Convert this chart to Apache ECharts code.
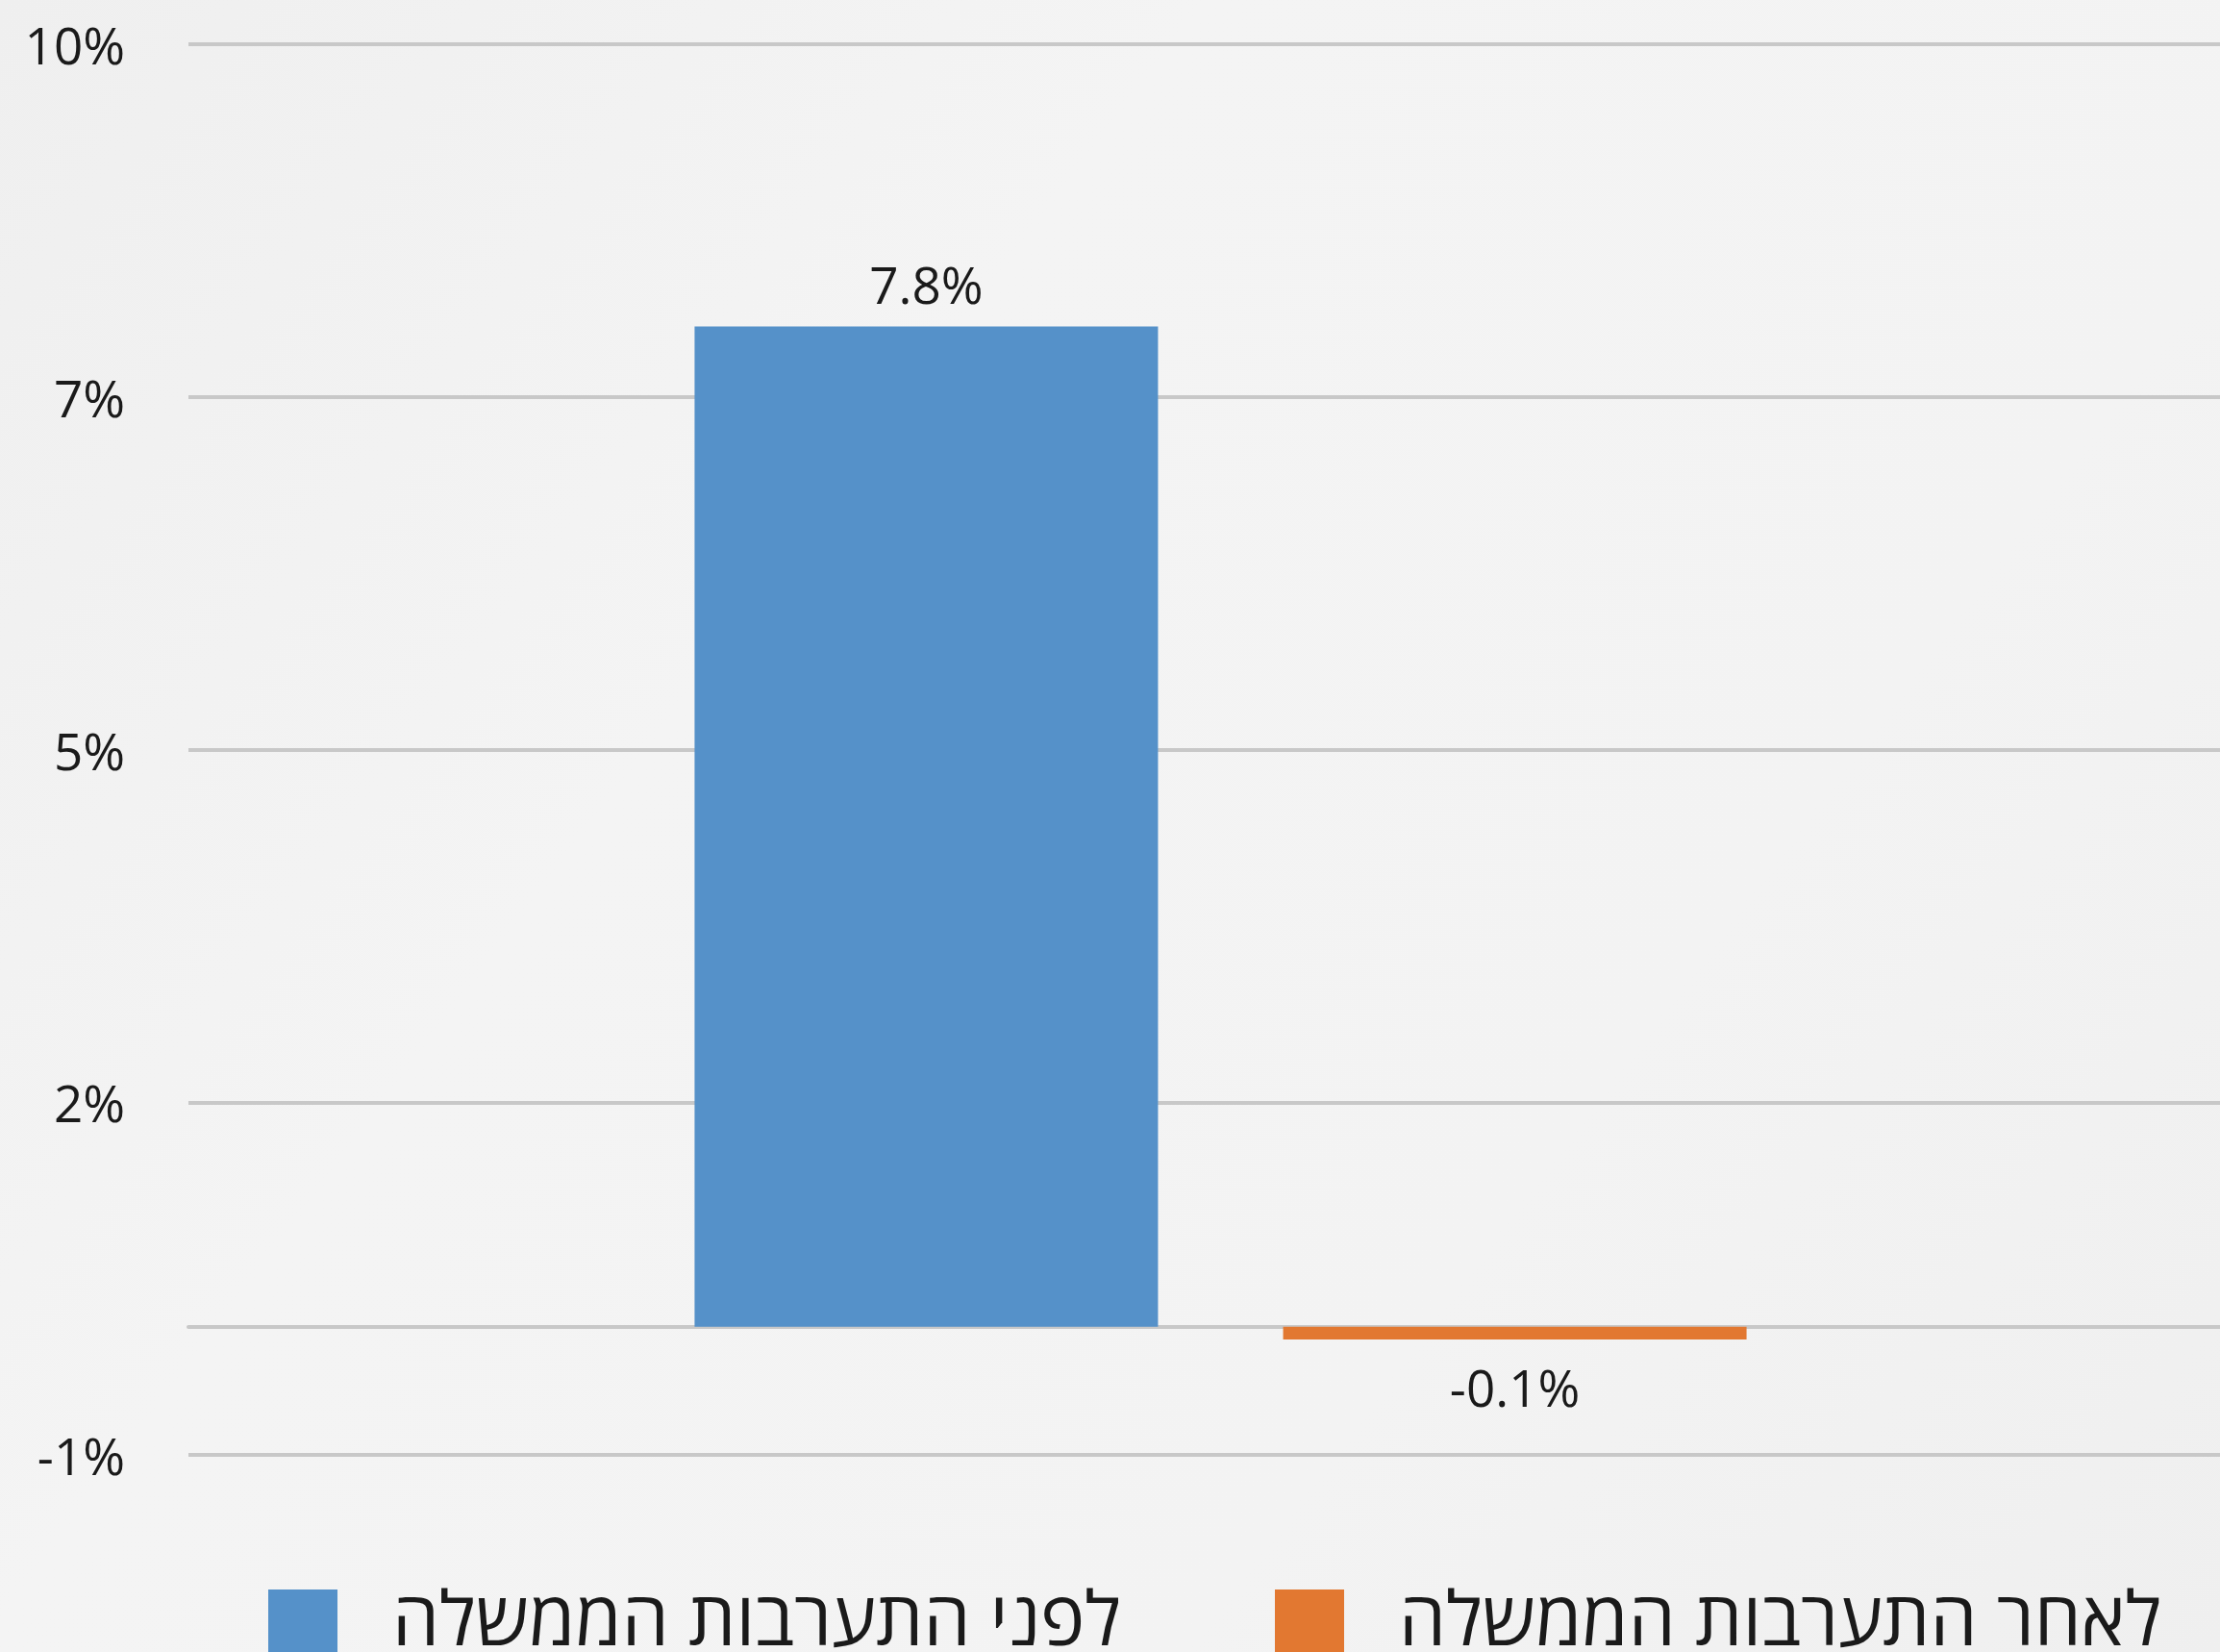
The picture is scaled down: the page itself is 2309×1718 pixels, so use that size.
<!DOCTYPE html>
<html>
<head>
<meta charset="utf-8">
<script src="https://cdn.jsdelivr.net/npm/echarts@6/dist/echarts.min.js"></script>
<style>
  html, body { margin: 0; padding: 0; }
  #chart { width: 2309px; height: 1718px; }
</style>
</head>
<body>
<div id="chart"></div>
<script>
  const categories = [""]
  const seriesNames = ["לפני התערבות הממשלה", "לאחר התערבות הממשלה"]
  const beforeValues = [7.8]
  const afterValues = [-0.1]
  const yMin = -1
  const yMax = 10
  const yStep = 2.75

  const font = "'Open Sans', 'Liberation Sans', 'DejaVu Sans', sans-serif"
  const gridLine = { color: "#c8c8c8", width: 4 }

  const legendText = {
    fontSize: 78,
    color: "#1a1a1a",
    fontFamily: font,
    padding: [0, 0, 0, 52],
  }

  const option = {
    backgroundColor: {
      type: "linear",
      x: 0, y: 0, x2: 1, y2: 1,
      colorStops: [
        { offset: 0, color: "#efefef" },
        { offset: 0.35, color: "#f4f4f4" },
        { offset: 0.7, color: "#f3f3f3" },
        { offset: 1, color: "#efefef" },
      ],
    },
    textStyle: { fontFamily: font },
    grid: {
      left: 196,
      width: 2147,
      top: 46,
      bottom: 205,
      containLabel: false,
      outerBoundsMode: "none",
    },
    // two legends so each item sits where the original puts it
    legend: [
      {
        left: 274,
        top: 1645,
        itemWidth: 72,
        itemHeight: 72,
        icon: "rect",
        textStyle: legendText,
        data: [seriesNames[0]],
      },
      {
        left: 1321,
        top: 1645,
        itemWidth: 72,
        itemHeight: 72,
        icon: "rect",
        textStyle: legendText,
        data: [seriesNames[1]],
      },
    ],
    xAxis: {
      type: "category",
      data: categories,
      axisTick: { show: false },
      axisLabel: { show: false },
      axisLine: { show: true, onZero: true, lineStyle: gridLine },
    },
    yAxis: {
      type: "value",
      min: yMin,
      max: yMax,
      interval: yStep,
      axisLine: { show: false },
      axisTick: { show: false },
      splitLine: { show: true, lineStyle: gridLine },
      axisLabel: {
        margin: 66,
        fontSize: 53,
        color: "#1a1a1a",
        fontFamily: font,
        formatter: (v) => "{v|" + Math.round(v) + "%}",
        rich: {
          v: {
            fontSize: 53,
            color: "#1a1a1a",
            fontFamily: font,
            padding: [12, 0, 0, 0],
          },
        },
      },
    },
    series: [
      {
        name: seriesNames[0],
        type: "bar",
        data: beforeValues,
        barWidth: 482,
        barGap: "27%",
        itemStyle: { color: "#5591c9" },
        label: {
          show: true,
          position: "top",
          distance: 12,
          fontSize: 53,
          color: "#1a1a1a",
          fontFamily: font,
          formatter: (p) => p.value.toFixed(1) + "%",
        },
      },
      {
        name: seriesNames[1],
        type: "bar",
        data: afterValues,
        barWidth: 482,
        barGap: "27%",
        itemStyle: { color: "#e27831" },
        label: {
          show: true,
          position: "bottom",
          distance: 28,
          fontSize: 53,
          color: "#1a1a1a",
          fontFamily: font,
          formatter: (p) => p.value.toFixed(1) + "%",
        },
      },
    ],
  }

  const myChart = echarts.init(document.getElementById("chart"))
  myChart.setOption(option)
</script>
</body>
</html>
